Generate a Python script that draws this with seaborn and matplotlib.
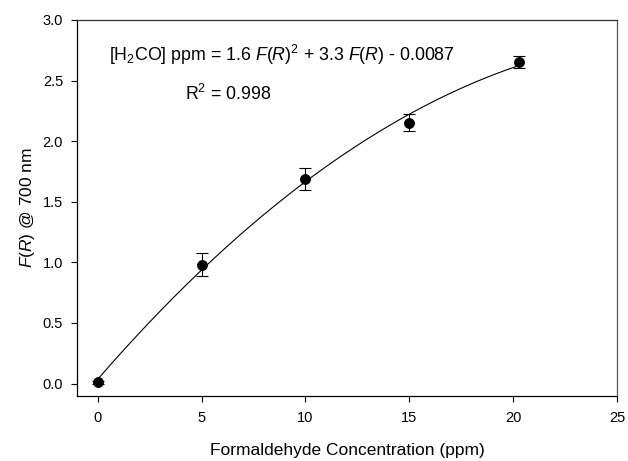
import numpy as np
import pandas as pd
import matplotlib
matplotlib.use("Agg")
import matplotlib.pyplot as plt
import seaborn as sns

# Data
concentration = [0, 5, 10, 15, 20.27]
fr_values = [0.01, 0.98, 1.69, 2.15, 2.655]
fr_errors = [0.01, 0.095, 0.09, 0.07, 0.05]

x_ticks = [0, 5, 10, 15, 20, 25]
y_ticks = [0.0, 0.5, 1.0, 1.5, 2.0, 2.5, 3.0]

sns.set_theme(style="ticks")
plt.rcParams['font.family'] = ['Liberation Sans', 'DejaVu Sans']
plt.rcParams['mathtext.fontset'] = 'custom'
plt.rcParams['mathtext.rm'] = 'Liberation Sans'
plt.rcParams['mathtext.it'] = 'Liberation Sans:italic'
plt.rcParams['text.color'] = 'black'
plt.rcParams['axes.labelcolor'] = 'black'

fig = plt.figure(figsize=(6.28, 4.61), dpi=100)
ax = fig.add_axes([0.1226, 0.1417, 0.86, 0.815])

# quadratic regression curve of F(R) on concentration
coef = np.polyfit(concentration, fr_values, 2)
xc = np.linspace(min(concentration), max(concentration), 200)
curve = pd.DataFrame({"x": xc, "y": np.polyval(coef, xc)})
sns.lineplot(data=curve, x="x", y="y", ax=ax, color="black", linewidth=0.8)

ax.errorbar(concentration, fr_values, yerr=fr_errors, fmt="none", ecolor="black",
            elinewidth=0.8, capsize=4.3, capthick=0.8, zorder=3)
pts = pd.DataFrame({"x": concentration, "y": fr_values})
sns.scatterplot(data=pts, x="x", y="y", ax=ax, color="black", s=52, edgecolor="black",
                zorder=4)

ax.set_xlim(-1, 25)
ax.set_ylim(-0.1, 3.0)
ax.set_xticks(x_ticks)
ax.set_xticklabels([str(t) for t in x_ticks])
ax.set_yticks(y_ticks)
ax.set_yticklabels([f"{t:.1f}" for t in y_ticks])
ax.tick_params(axis="both", labelsize=10.5, length=4.5, width=0.8, color="black",
               direction="out", pad=5.5, labelcolor="black")
ax.tick_params(axis="x", pad=6.5)
for s in ax.spines.values():
    s.set_linewidth(0.9)
    s.set_color("black")
ax.spines["right"].set_color("#555555")
ax.spines["top"].set_color("#333333")

ax.set_xlabel("Formaldehyde Concentration (ppm)", fontsize=12.5, labelpad=13, color="black")
ax.set_ylabel(r"$\mathit{F(R)}$ @ 700 nm", fontsize=12.5, labelpad=4, color="black")

ax.text(0.55, 2.71, r"[H$_2$CO] ppm = 1.6 $\mathit{F(R)}^2$ + 3.3 $\mathit{F(R)}$ - 0.0087",
        fontsize=12.8, va="center", ha="left", color="black")
ax.text(4.2, 2.39, r"R$^2$ = 0.998", fontsize=12.8, va="center", ha="left", color="black")

fig.savefig("out.png", dpi=100)
